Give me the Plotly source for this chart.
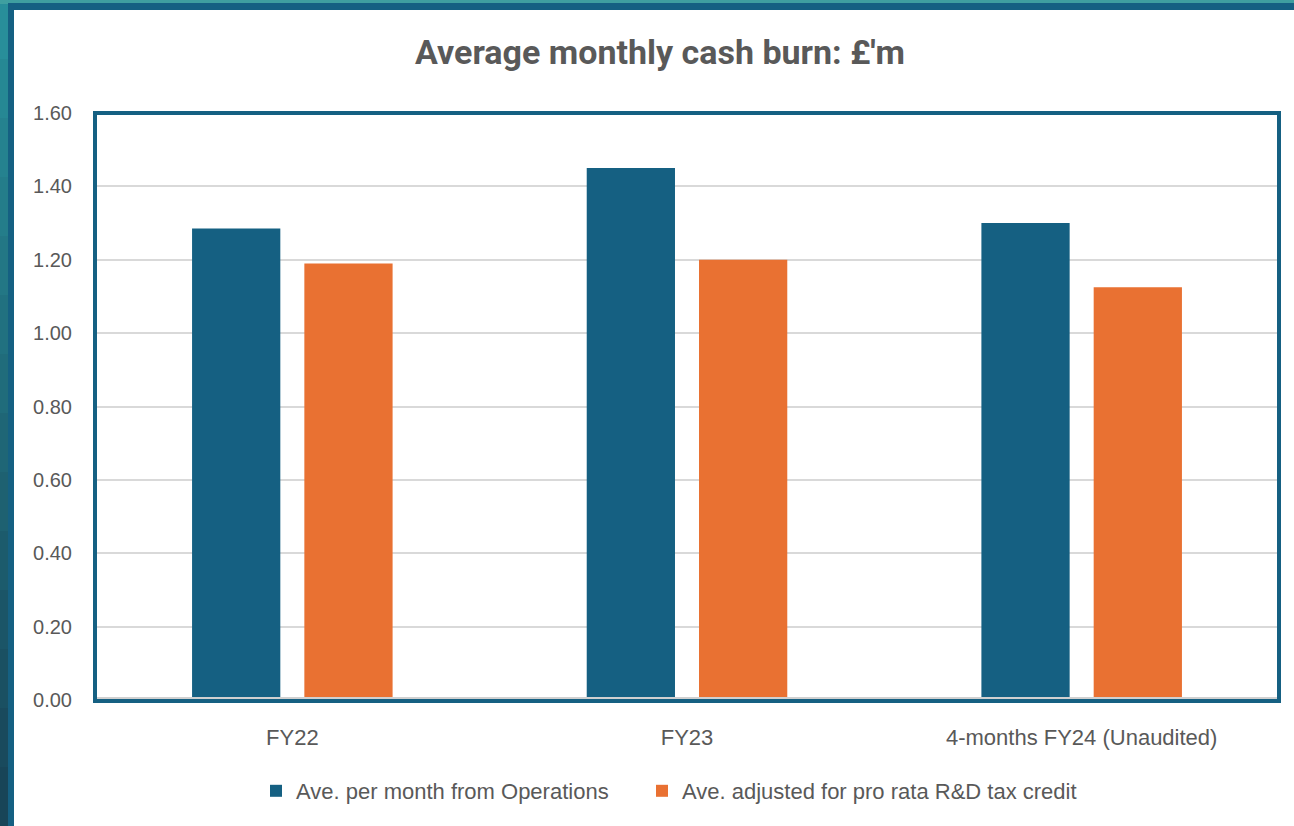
import plotly.graph_objects as go

categories = ["FY22", "FY23", "4-months FY24 (Unaudited)"]
ops_values = [1.285, 1.45, 1.30]
adj_values = [1.19, 1.20, 1.125]
series_names = ["Ave. per month from Operations", "Ave. adjusted for pro rata R&D tax credit"]
tick_vals = [0, 0.2, 0.4, 0.6, 0.8, 1.0, 1.2, 1.4, 1.6]
tick_text = ["0.00", "0.20", "0.40", "0.60", "0.80", "1.00", "1.20", "1.40", "1.60"]

BLUE = "#156082"
ORANGE = "#E97132"
GREY = "#595959"

W, H = 1294, 826
L, R, T, B = 95, 15, 113, 126
pw, ph = W - L - R, H - T - B

def px(x):
    return (x - L) / pw

def py(y):
    return (H - B - y) / ph

fig = go.Figure()
fig.add_trace(go.Bar(x=categories, y=ops_values, name=series_names[0], showlegend=True,
                     marker=dict(color=BLUE, line=dict(width=0)), legend="legend"))
fig.add_trace(go.Bar(x=categories, y=adj_values, name=series_names[1], showlegend=True,
                     marker=dict(color=ORANGE, line=dict(width=0)), legend="legend2"))

shapes = []
# left gradient strip (teal -> dark)
steps = 14
c0 = (0x28, 0x8E, 0x9A)
c1 = (0x18, 0x45, 0x58)
for i in range(steps):
    t = i / (steps - 1)
    col = "rgb(%d,%d,%d)" % tuple(int(c0[k] + (c1[k] - c0[k]) * t) for k in range(3))
    y0 = H * i / steps
    y1 = H * (i + 1) / steps
    shapes.append(dict(type="rect", xref="paper", yref="paper", layer="below",
                       x0=px(0), x1=px(9), y0=py(y1 + 1), y1=py(y0),
                       fillcolor=col, line=dict(width=0)))
# top strip
shapes.append(dict(type="rect", xref="paper", yref="paper", layer="below",
                   x0=px(0), x1=px(W), y0=py(4), y1=py(0),
                   fillcolor="#3F9FA0", line=dict(width=0)))
# dark blue frame
shapes.append(dict(type="rect", xref="paper", yref="paper", layer="below",
                   x0=px(8), x1=px(W + 10), y0=py(H + 10), y1=py(3),
                   fillcolor=BLUE, line=dict(width=0)))
# white page
shapes.append(dict(type="rect", xref="paper", yref="paper", layer="below",
                   x0=px(14), x1=px(W + 10), y0=py(H + 10), y1=py(10),
                   fillcolor="white", line=dict(width=0)))
# plot border
shapes.append(dict(type="rect", xref="paper", yref="paper", layer="above",
                   x0=px(95), x1=px(1279), y0=py(701), y1=py(113),
                   fillcolor="rgba(0,0,0,0)", line=dict(color=BLUE, width=4)))
# grey axis line inside the bottom border
shapes.append(dict(type="line", xref="paper", yref="paper", layer="above",
                   x0=px(97), x1=px(1277), y0=py(698), y1=py(698),
                   line=dict(color="#D0D0D0", width=2)))

legend_common = dict(orientation="h", xanchor="left", yanchor="middle",
                     y=py(791), font=dict(size=22, color=GREY),
                     bgcolor="rgba(0,0,0,0)", itemsizing="constant")

fig.update_layout(
    width=W, height=H,
    showlegend=True,
    margin=dict(l=L, r=R, t=T, b=B, pad=0),
    paper_bgcolor="white",
    plot_bgcolor="white",
    barmode="group",
    bargap=0.431,
    bargroupgap=0.214,
    font=dict(family="Liberation Sans, Arial, sans-serif", color=GREY, size=20),
    title=dict(text="<b>Average monthly cash burn: £'m</b>",
               font=dict(family="Liberation Sans Narrow, Arial Narrow, Roboto, sans-serif",
                         size=34, color=GREY),
               x=px(660), xanchor="center", xref="paper", y=1 - 52 / H, yanchor="middle"),
    legend=dict(x=px(256), **legend_common),
    legend2=dict(x=px(642), **legend_common),
    shapes=shapes,
    xaxis=dict(showgrid=False, showline=False,
               ticks="", tickfont=dict(size=22, color=GREY),
               ticklabelstandoff=22, zeroline=False),
    yaxis=dict(range=[0, 1.6], tickvals=tick_vals, ticktext=tick_text,
               showgrid=True, gridcolor="#D9D9D9", gridwidth=2,
               zeroline=False, showline=False, ticks="",
               tickfont=dict(size=20, color=GREY), ticklabelstandoff=22),
)

fig.write_html("out.html", config={"displayModeBar": False},
               post_script="document.body.style.margin='0px';document.body.style.overflow='hidden';")
